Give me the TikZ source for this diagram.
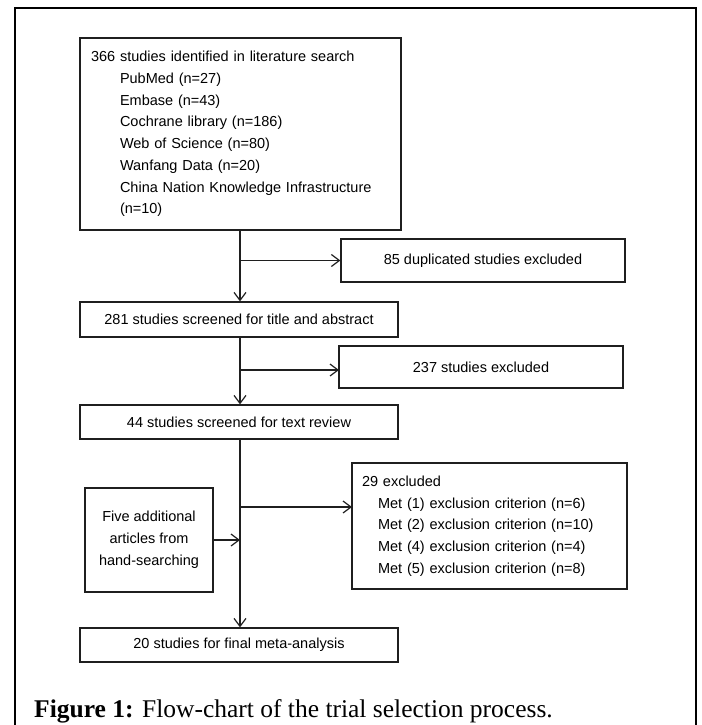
\documentclass[tikz,border=0pt]{standalone}
\usepackage{fontspec}
\setmainfont{Liberation Sans}
\newfontfamily\capfont{Liberation Serif}
\usetikzlibrary{arrows.meta}
\begin{document}
\begin{tikzpicture}[x=1pt,y=-1pt,
  box/.style={draw=black!88,line width=1.3pt,inner sep=0pt,font=\fontsize{14.5}{21.7}\selectfont},
  arr/.style={draw=black!88,line width=1.3pt,-{Straight Barb[length=8pt,width=12pt,line width=1.2pt]}},
  frame/.style={draw=black,line width=2pt}]
\useasboundingbox (0,0) rectangle (701,725);
\draw[frame] (15,725) -- (15,8) -- (696,8) -- (696,725);
\coordinate (spine) at (240,0);
\node[box,minimum width=321,minimum height=192,text width=299,align=left] (b1) at (240.5,134)
 {366 studies identified in literature search\\
  \hspace*{29pt}PubMed (n=27)\\
  \hspace*{29pt}Embase (n=43)\\
  \hspace*{29pt}Cochrane library (n=186)\\
  \hspace*{29pt}Web of Science (n=80)\\
  \hspace*{29pt}Wanfang Data (n=20)\\
  \hspace*{29pt}China Nation Knowledge Infrastructure\\
  \hspace*{29pt}(n=10)};
\node[box,minimum width=284,minimum height=43] (b2) at (483,260.5) {85 duplicated studies excluded};
\node[box,minimum width=318,minimum height=35] (b3) at (239,319.5) {281 studies screened for title and abstract};
\node[box,minimum width=284,minimum height=42] (b4) at (481,367) {237 studies excluded};
\node[box,minimum width=318,minimum height=34] (b5) at (239,422) {44 studies screened for text review};
\node[box,minimum width=275,minimum height=126,text width=255,align=left] (b7) at (489.5,526)
 {29 excluded\\
  \hspace*{16pt}Met (1) exclusion criterion (n=6)\\
  \hspace*{16pt}Met (2) exclusion criterion (n=10)\\
  \hspace*{16pt}Met (4) exclusion criterion (n=4)\\
  \hspace*{16pt}Met (5) exclusion criterion (n=8)};
\node[box,minimum width=128,minimum height=104,align=center,font=\fontsize{14.5}{22}\selectfont] (b8) at (149,540)
 {Five additional\\articles from\\hand-searching};
\node[box,minimum width=318,minimum height=34] (b6) at (239,645) {20 studies for final meta-analysis};
\coordinate (e3) at (352,507);
\coordinate (e2) at (339,370);
\draw[arr] (b1.south -| spine) -- (b3.north -| spine);
\draw[arr] (b2.west -| spine) -- (b2.west);
\draw[arr] (b3.south -| spine) -- (b5.north -| spine);
\draw[arr] (e2 -| spine) -- (e2);
\draw[arr] (b5.south -| spine) -- (b6.north -| spine);
\draw[arr] (e3 -| spine) -- (e3);
\draw[arr] (b8.east) -- (b8.east -| spine);
\node[anchor=base west,inner sep=0pt,font=\capfont\fontsize{25.5}{30}\selectfont] (cap) at (34,717)
 {\textbf{Figure 1:} Flow-chart of the trial selection process.};
\end{tikzpicture}
\end{document}
